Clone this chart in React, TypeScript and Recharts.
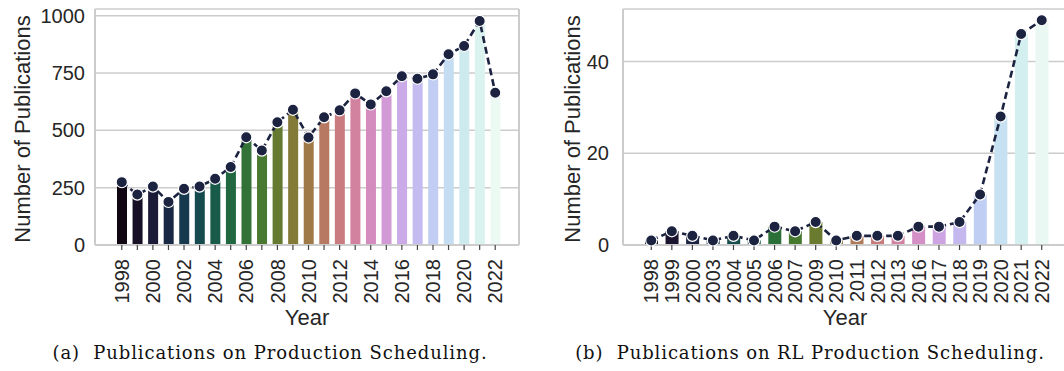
import React from 'react';
import { ComposedChart, Bar, Line, XAxis, YAxis, CartesianGrid, Cell } from 'recharts';

const leftYears = ['1998', '1999', '2000', '2001', '2002', '2003', '2004', '2005', '2006', '2007', '2008', '2009', '2010', '2011', '2012', '2013', '2014', '2015', '2016', '2017', '2018', '2019', '2020', '2021', '2022'];
const leftCounts = [274, 220, 255, 188, 245, 255, 289, 340, 470, 412, 535, 590, 469, 557, 587, 661, 613, 670, 736, 725, 744, 832, 868, 977, 664];
const leftTickLabels = ['1998', '2000', '2002', '2004', '2006', '2008', '2010', '2012', '2014', '2016', '2018', '2020', '2022'];
const leftYTicks = [0, 250, 500, 750, 1000];

const rightYears = ['1998', '1999', '2000', '2003', '2004', '2005', '2006', '2007', '2009', '2010', '2011', '2012', '2013', '2016', '2017', '2018', '2019', '2020', '2021', '2022'];
const rightCounts = [1, 3, 2, 1, 2, 1, 4, 3, 5, 1, 2, 2, 2, 4, 4, 5, 11, 28, 46, 49];
const rightYTicks = [0, 20, 40];

const DOT = '#1c2340';
const GRID = '#cccccc';
const TEXT = '#262626';
const FONT = '"Liberation Sans", Arial, sans-serif';

// matplotlib-style cubehelix palette, sampled like seaborn does
const cubehelix = (n: number) => {
  const out: string[] = [];
  for (let i = 1; i <= n; i++) {
    const l = i / (n + 1);
    const phi = 2 * Math.PI * (0.5 / 3 - 1.5 * l);
    const amp = (l * (1 - l)) / 2;
    const c = Math.cos(phi);
    const s = Math.sin(phi);
    const r = l + amp * (-0.14861 * c + 1.78277 * s);
    const g = l + amp * (-0.29227 * c - 0.90649 * s);
    const b = l + amp * (1.97294 * c);
    const h = (v: number) => Math.round(Math.max(0, Math.min(1, v)) * 255);
    out.push(`rgb(${h(r)},${h(g)},${h(b)})`);
  }
  return out;
};

const leftData = leftYears.map((year, i) => ({ year, count: leftCounts[i] }));
const rightData = rightYears.map((year, i) => ({ year, count: rightCounts[i] }));

const RotTick = ({ x, y, payload, labels }: any) => {
  if (labels && !labels.includes(payload.value)) return null;
  return (
    <g transform={`translate(${x},${y})`}>
      <text transform="rotate(-90)" textAnchor="end" dy="0.36em" fontSize={20} fill={TEXT} fontFamily={FONT}>
        {payload.value}
      </text>
    </g>
  );
};

const YLabel = ({ viewBox, dist }: any) => {
  const cx = viewBox.x + viewBox.width - dist;
  const cy = viewBox.y + viewBox.height / 2 + 2;
  return (
    <text x={cx} y={cy} transform={`rotate(-90, ${cx}, ${cy})`} textAnchor="middle" dominantBaseline="central"
      fontSize={22} fill={TEXT} fontFamily={FONT}>
      Number of Publications
    </text>
  );
};

const XLabel = ({ viewBox }: any) => (
  <text x={viewBox.x + viewBox.width / 2} y={viewBox.y + 72} textAnchor="middle" dominantBaseline="central"
    fontSize={22} fill={TEXT} fontFamily={FONT}>
    Year
  </text>
);

const Panel = ({ data, width, yAxisWidth, marginRight, domainMax, yTicks, tickLabels, padding, barSize, labelDist, tickMargin }: any) => {
  const colors = cubehelix(data.length);
  return (
    <ComposedChart width={width} height={371} data={data} margin={{ top: 9, right: marginRight, bottom: 0, left: 0 }}>
      <CartesianGrid vertical={false} stroke={GRID} strokeWidth={1.5} />
      <XAxis dataKey="year" interval={0} height={126} padding={padding} stroke={GRID} strokeWidth={2}
        tickSize={5} tickMargin={9} tickLine={{ stroke: '#444', strokeWidth: 1.2 }}
        tick={<RotTick labels={tickLabels} />} label={<XLabel />} />
      <XAxis xAxisId="top" orientation="top" height={0} tick={false} tickLine={false} stroke={GRID} strokeWidth={2} />
      <YAxis domain={[0, domainMax]} ticks={yTicks} width={yAxisWidth} stroke={GRID} strokeWidth={2}
        tickLine={false} tickSize={0} tickMargin={tickMargin}
        tick={{ fontSize: 20, fill: TEXT, fontFamily: FONT }} label={<YLabel dist={labelDist} />} />
      <YAxis yAxisId="right" orientation="right" width={1} domain={[0, 1]} tick={false} tickLine={false}
        stroke={GRID} strokeWidth={2} />
      <Bar dataKey="count" barSize={barSize} isAnimationActive={false}>
        {data.map((d: any, i: number) => (
          <Cell key={d.year} fill={colors[i]} />
        ))}
      </Bar>
      <Line dataKey="count" type="linear" stroke={DOT} strokeWidth={2.6} strokeDasharray="7 4"
        dot={{ r: 5.6, fill: DOT, stroke: '#fff', strokeWidth: 1.2, strokeDasharray: '' }} activeDot={false}
        isAnimationActive={false} />
    </ComposedChart>
  );
};

const captionStyle: React.CSSProperties = {
  position: 'absolute',
  top: 342,
  fontFamily: '"DejaVu Serif", serif',
  fontSize: 18,
  letterSpacing: 0.9,
  color: '#111',
  whiteSpace: 'pre',
  textAlign: 'center',
};

export default function App() {
  return (
    <div style={{ position: 'fixed', left: 0, top: 0, width: 1064, height: 371, overflow: 'hidden', background: '#fff' }}>
      <div style={{ position: 'absolute', left: 0, top: 0 }}>
        <Panel data={leftData} width={531} yAxisWidth={95} marginRight={11} domainMax={1029} yTicks={leftYTicks}
          tickLabels={leftTickLabels} padding={{ left: 19, right: 16 }} barSize={10} labelDist={73} tickMargin={10} />
      </div>
      <div style={{ position: 'absolute', left: 530, top: 0 }}>
        <Panel data={rightData} width={541} yAxisWidth={93} marginRight={3} domainMax={51.45} yTicks={rightYTicks}
          tickLabels={null} padding={{ left: 18, right: 15 }} barSize={13} labelDist={51} tickMargin={14} />
      </div>
      <div style={{ ...captionStyle, left: 0, width: 540 }}>(a)  Publications on Production Scheduling.</div>
      <div style={{ ...captionStyle, left: 540, width: 540 }}>(b)  Publications on RL Production Scheduling.</div>
    </div>
  );
}
